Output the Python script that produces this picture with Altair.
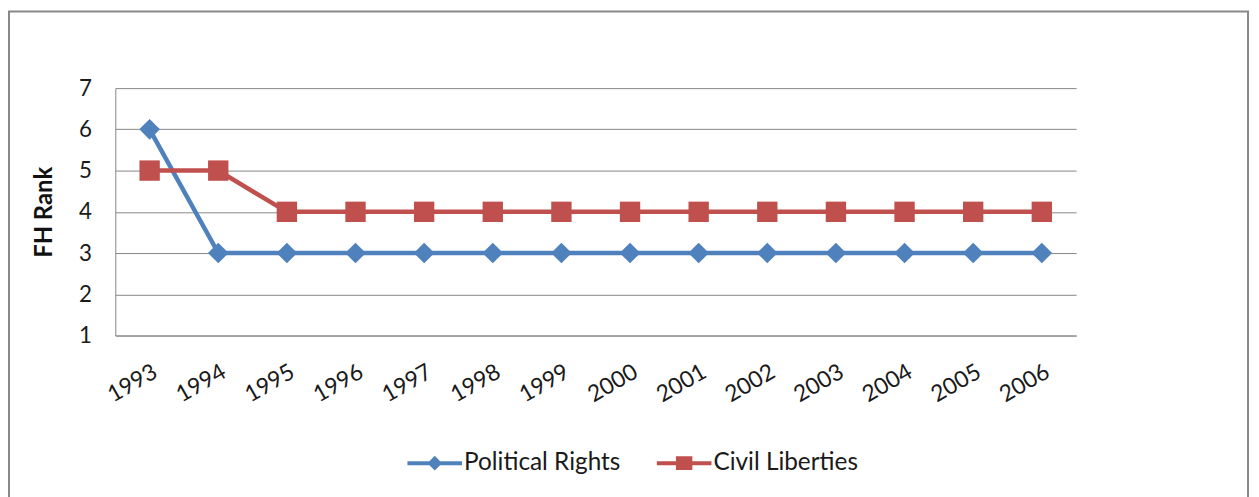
import altair as alt
import pandas as pd

years = [1993, 1994, 1995, 1996, 1997, 1998, 1999, 2000, 2001, 2002, 2003, 2004, 2005, 2006]
political_rights = [6, 3, 3, 3, 3, 3, 3, 3, 3, 3, 3, 3, 3, 3]
civil_liberties = [5, 5, 4, 4, 4, 4, 4, 4, 4, 4, 4, 4, 4, 4]
series_names = ["Political Rights", "Civil Liberties"]
y_ticks = [1, 2, 3, 4, 5, 6, 7]

BLUE = "#4F81BD"
RED = "#C0504D"
GRID = "#868686"
FONT = "Lato"

rows = []
for yr, v in zip(years, political_rights):
    rows.append({"year": yr, "series": series_names[0], "rank": v})
for yr, v in zip(years, civil_liberties):
    rows.append({"year": yr, "series": series_names[1], "rank": v})
df = pd.DataFrame(rows)

x_enc = alt.X(
    "year:O",
    scale=alt.Scale(type="point", padding=0.5),
    axis=alt.Axis(
        title=None, labelAngle=330, labelAlign="right", labelBaseline="top",
        labelPadding=25, ticks=False, tickSize=0, grid=False,
        domainColor=GRID, domainWidth=1, labelFontSize=23, labelColor="#1a1a1a",
        labelFont=FONT,
    ),
)
y_enc = alt.Y(
    "rank:Q",
    scale=alt.Scale(domain=[1, 7], nice=False, zero=False),
    axis=alt.Axis(
        title="FH Rank", values=y_ticks, ticks=False, tickSize=0, labelPadding=24,
        grid=True, gridColor=GRID, gridWidth=1, domainColor=GRID, domainWidth=1,
        labelFontSize=22.5, labelColor="#1a1a1a", labelFont=FONT,
        titleFont=FONT, titleFontSize=24, titleFontWeight="bold", titleColor="#111111",
        titlePadding=22,
    ),
)

base = alt.Chart(df)

pr = base.transform_filter(alt.datum.series == series_names[0])
cl = base.transform_filter(alt.datum.series == series_names[1])

diamond_path = "M0,-1L1,0L0,1L-1,0Z"
square_path = "M-1,-1H1V1H-1Z"

pr_line = pr.mark_line(color=BLUE, strokeWidth=4.5).encode(x=x_enc, y=y_enc)
pr_pts = pr.mark_point(shape=diamond_path, filled=True, color=BLUE, size=430, opacity=1).encode(x=x_enc, y=y_enc)
cl_line = cl.mark_line(color=RED, strokeWidth=4.5).encode(x=x_enc, y=y_enc)
cl_pts = cl.mark_point(shape=square_path, filled=True, color=RED, size=420, opacity=1).encode(x=x_enc, y=y_enc)

# legend symbols: line stub with marker (unit box = 55 px wide)
path_pr = "M-1,-0.075H1V0.075H-1Z M0,-0.27L0.27,0L0,0.27L-0.27,0Z"
path_cl = "M-1,-0.075H1V0.075H-1Z M-0.3,-0.25H0.3V0.25H-0.3Z"

legend = alt.Legend(
    title=None, orient="none", legendX=294, legendY=350, direction="horizontal",
    symbolSize=3025, symbolOpacity=1, symbolStrokeWidth=0, labelOffset=2,
    labelFont=FONT, labelFontSize=24.5, labelColor="#1a1a1a", columnPadding=36,
    padding=0,
)
leg = base.mark_point(filled=True, opacity=0).encode(
    x=x_enc, y=y_enc,
    color=alt.Color("series:N", scale=alt.Scale(domain=series_names, range=[BLUE, RED]), legend=legend),
    shape=alt.Shape("series:N", scale=alt.Scale(domain=series_names, range=[path_pr, path_cl]), legend=legend),
)

frame = alt.Chart(pd.DataFrame({"a": [0]})).mark_rect(
    fillOpacity=0, stroke="#888888", strokeWidth=2
).encode(x=alt.value(-107), x2=alt.value(1140), y=alt.value(-77), y2=alt.value(430))

chart = alt.layer(pr_line, pr_pts, cl_line, cl_pts, leg, frame).properties(
    width=967, height=249,
    padding={"left": 108, "top": 79, "right": 176, "bottom": 180},
    autosize=alt.AutoSizeParams(type="none"),
    background="white",
).configure(font=FONT).configure_view(strokeWidth=0, stroke="transparent")

chart.save("out.html", embed_options={"renderer": "svg", "actions": False})
